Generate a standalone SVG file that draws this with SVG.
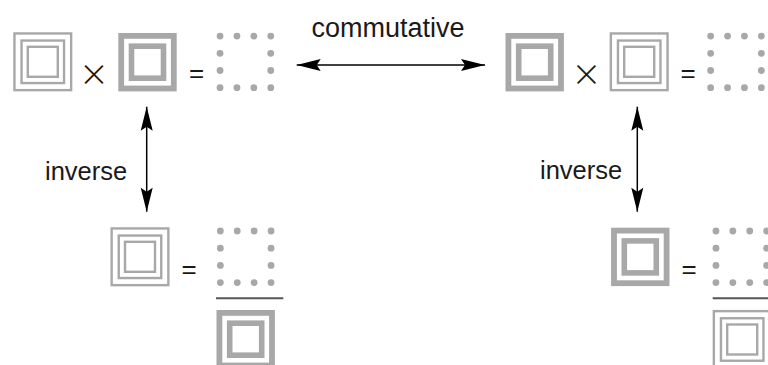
<svg xmlns="http://www.w3.org/2000/svg" xmlns:xlink="http://www.w3.org/1999/xlink" width="768" height="365" viewBox="0 0 768 365">
  <style>
    .sq { fill: none; stroke: #a8a8a8; }
    .dot { fill: #a8a8a8; }
    .lbl { font-family: "Liberation Sans", Arial, sans-serif; fill: #1a1a1a; }
    .op { font-family: "Liberation Sans", Arial, sans-serif; fill: #1a1a1a; text-anchor: middle; }
    .times { font-family: Inter, "Liberation Sans", sans-serif; font-weight: 200; fill: #1a1a1a; text-anchor: middle; }
    .conn { stroke: #000; stroke-width: 1.5; fill: none; marker-start: url(#ah); marker-end: url(#ah); }
    .frac { stroke: #555; stroke-width: 2; }
  </style>
  <defs>
    <marker id="ah" viewBox="-26 -7 28 14" refX="0" refY="0" markerWidth="28" markerHeight="14" markerUnits="userSpaceOnUse" orient="auto-start-reverse">
      <path d="M0,0 L-24,-6 L-20,0 L-24,6 Z" fill="#000"/>
    </marker>
    <g id="triple">
      <rect class="sq" x="-28.35" y="-28.35" width="56.7" height="56.7" stroke-width="2.4"/>
      <rect class="sq" x="-21.25" y="-21.25" width="42.5" height="42.5" stroke-width="2.4"/>
      <rect class="sq" x="-15" y="-15" width="30" height="30" stroke-width="2.4"/>
    </g>
    <g id="thick">
      <rect class="sq" x="-26.3" y="-26.3" width="52.6" height="52.6" stroke-width="5.8"/>
      <rect class="sq" x="-16" y="-16" width="32" height="32" stroke-width="5.6"/>
    </g>
    <g id="dots">
      <circle class="dot" cx="-25.35" cy="-25.8" r="3.4"/>
      <circle class="dot" cx="-8.45" cy="-25.8" r="3.4"/>
      <circle class="dot" cx="8.45" cy="-25.8" r="3.4"/>
      <circle class="dot" cx="25.35" cy="-25.8" r="3.4"/>
      <circle class="dot" cx="-25.35" cy="-8.6" r="3.4"/>
      <circle class="dot" cx="25.35" cy="-8.6" r="3.4"/>
      <circle class="dot" cx="-25.35" cy="8.6" r="3.4"/>
      <circle class="dot" cx="25.35" cy="8.6" r="3.4"/>
      <circle class="dot" cx="-25.35" cy="25.8" r="3.4"/>
      <circle class="dot" cx="-8.45" cy="25.8" r="3.4"/>
      <circle class="dot" cx="8.45" cy="25.8" r="3.4"/>
      <circle class="dot" cx="25.35" cy="25.8" r="3.4"/>
    </g>
  </defs>

  <g id="eq-top-left">
    <use href="#triple" x="42.8" y="61.8"/>
    <text class="times" x="94" y="86.5" font-size="44">×</text>
    <use href="#thick" x="147.5" y="62.2"/>
    <text class="op" x="196.5" y="81.5" font-size="26">=</text>
    <use href="#dots" x="245.4" y="61.9"/>
  </g>

  <g id="eq-top-right">
    <use href="#thick" x="534.7" y="62.2"/>
    <text class="times" x="586.5" y="86.5" font-size="44">×</text>
    <use href="#triple" x="639.2" y="61.8"/>
    <text class="op" x="688" y="81.5" font-size="26">=</text>
    <use href="#dots" x="736" y="61.9"/>
  </g>

  <g id="eq-bottom-left">
    <use href="#triple" x="140" y="256.8"/>
    <text class="op" x="189" y="277.5" font-size="26">=</text>
    <use href="#dots" x="245.7" y="256.8"/>
    <line class="frac" x1="216" y1="298.3" x2="283.3" y2="298.3"/>
    <use href="#thick" x="245.7" y="339.2"/>
  </g>

  <g id="eq-bottom-right">
    <use href="#thick" x="640.3" y="256.9"/>
    <text class="op" x="689" y="277.5" font-size="26">=</text>
    <use href="#dots" x="741.3" y="256.8"/>
    <line class="frac" x1="712.7" y1="298.3" x2="780" y2="298.3"/>
    <use href="#triple" x="742.2" y="339.5"/>
  </g>

  <g id="label-commutative">
    <text class="lbl" x="311.5" y="37" font-size="27">commutative</text>
  </g>
  <g id="label-inverse-left">
    <text class="lbl" x="45" y="180" font-size="25.5">inverse</text>
  </g>
  <g id="label-inverse-right">
    <text class="lbl" x="540" y="179" font-size="25.5">inverse</text>
  </g>

  <g id="connectors">
    <line class="conn" x1="296.7" y1="65" x2="485" y2="65"/>
    <line class="conn" x1="146.7" y1="106.7" x2="146.7" y2="211.7"/>
    <line class="conn" x1="637.3" y1="106.7" x2="637.3" y2="211.7"/>
  </g>
</svg>
